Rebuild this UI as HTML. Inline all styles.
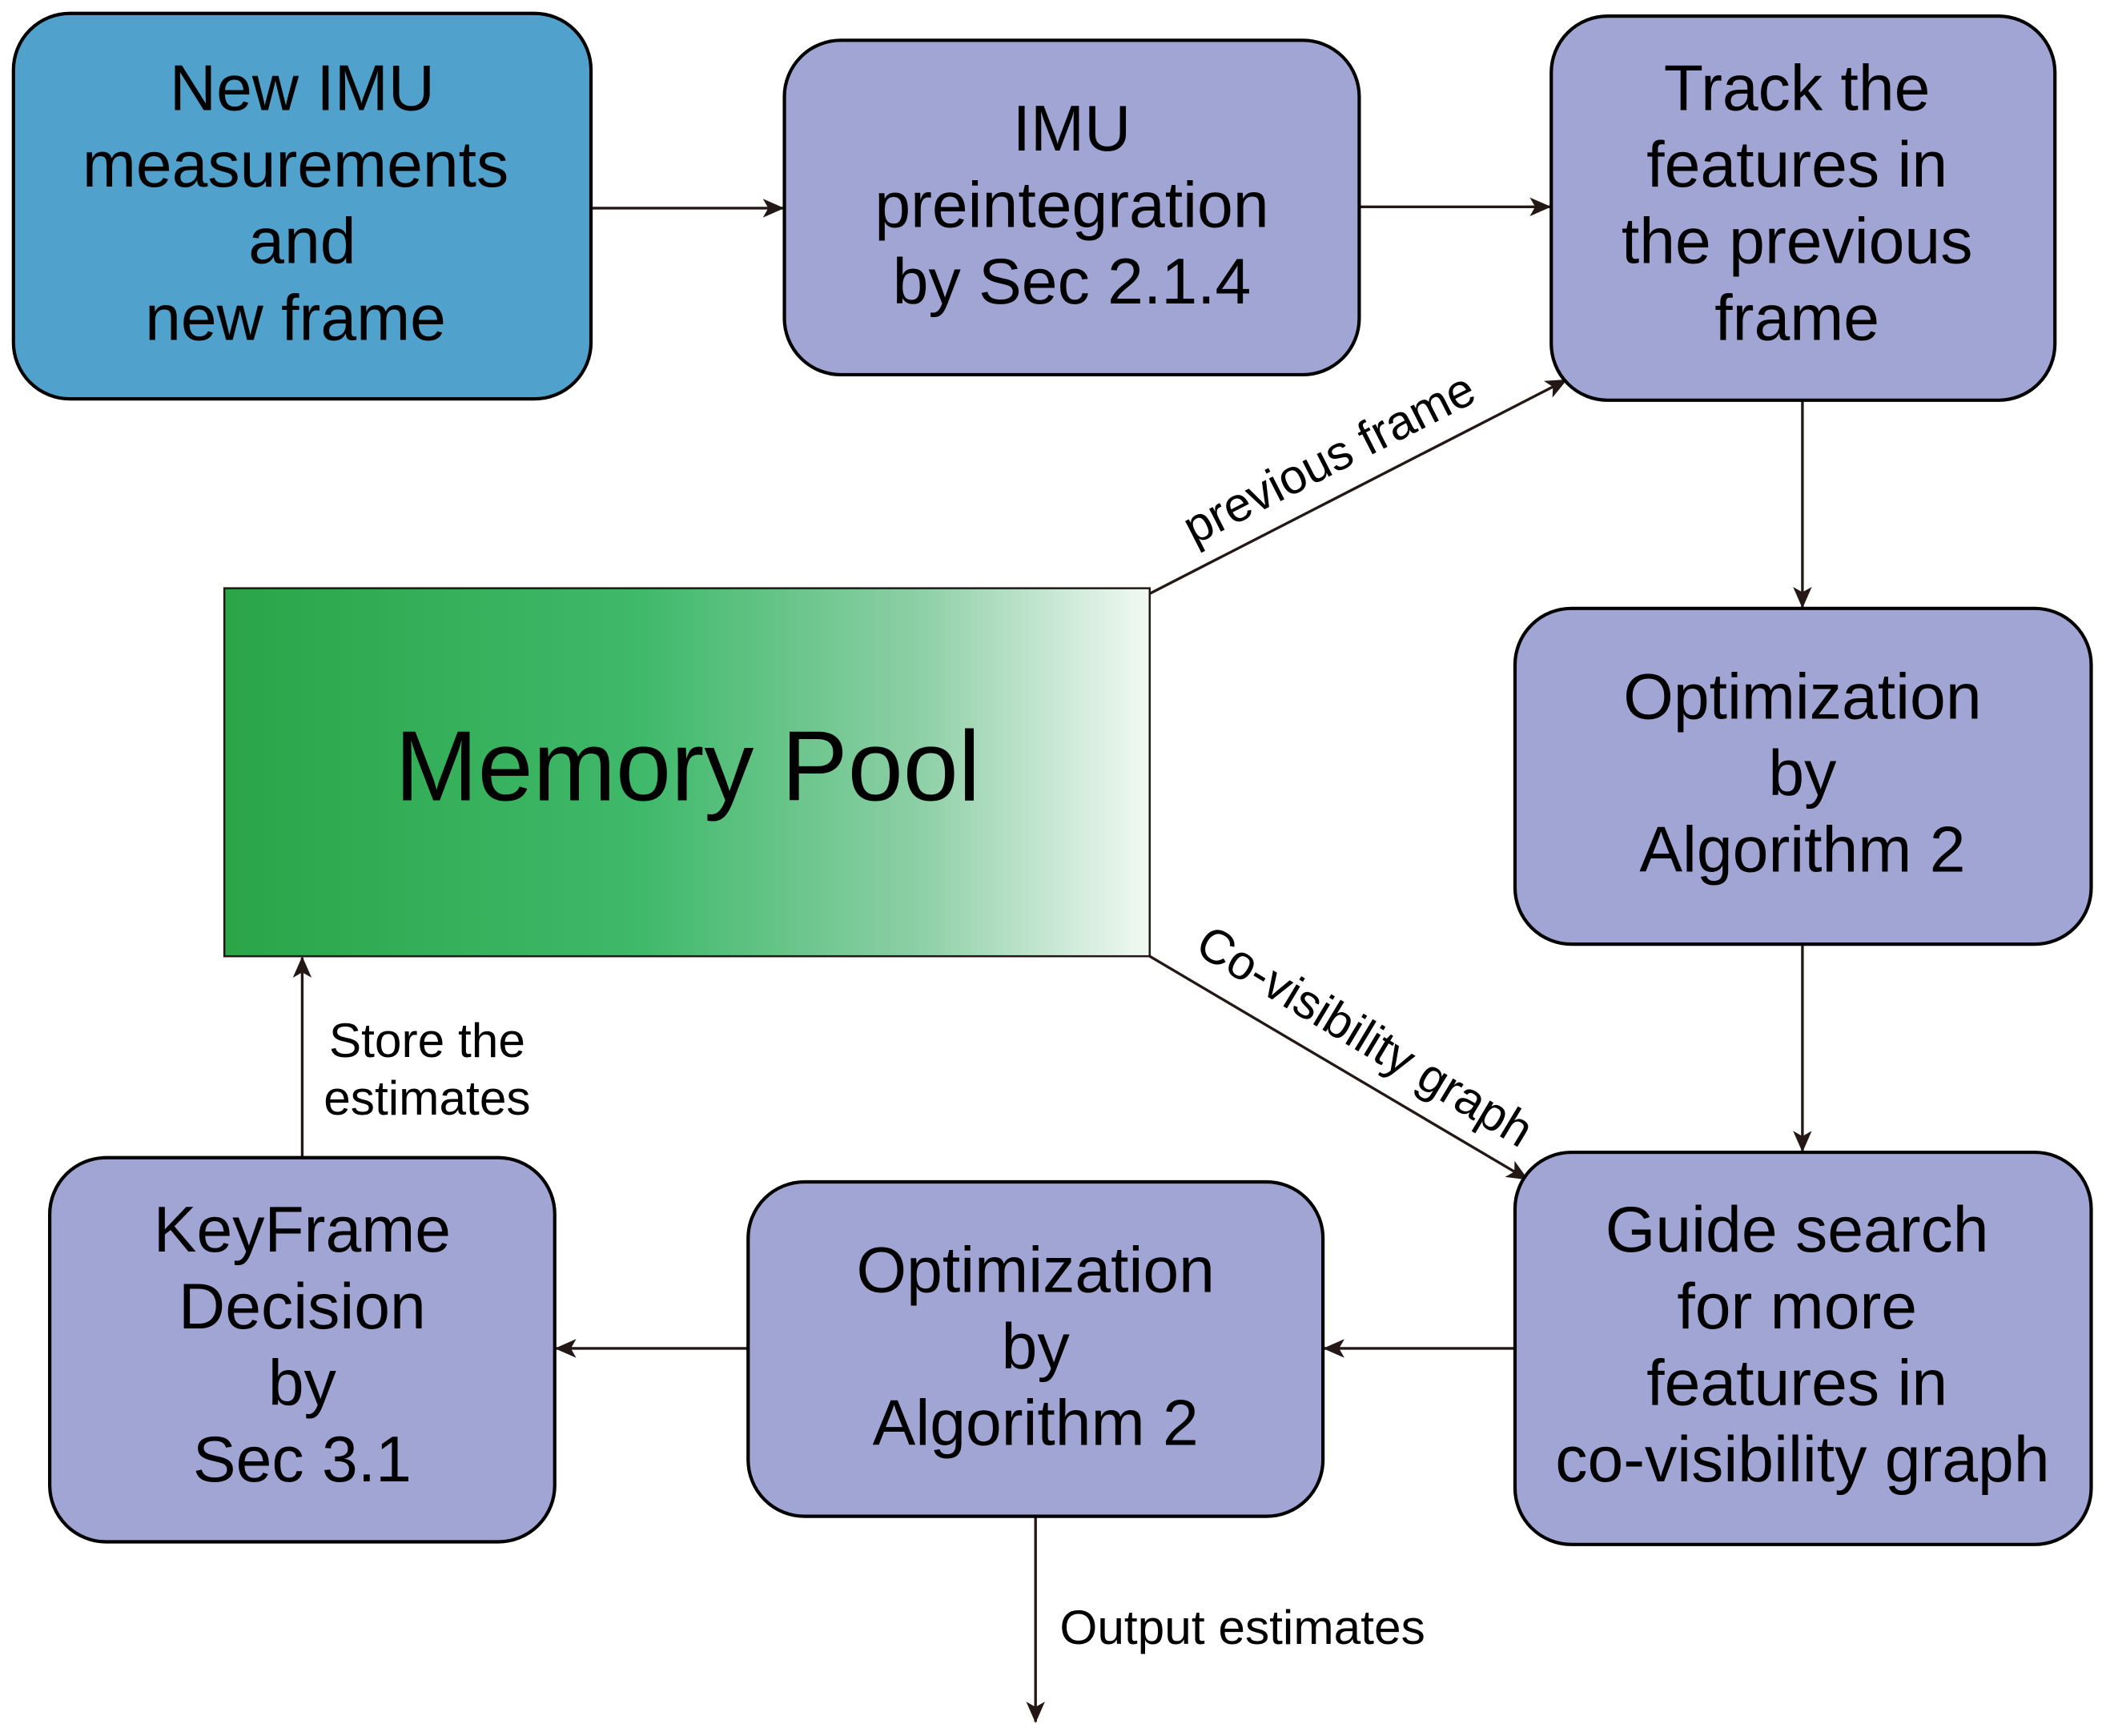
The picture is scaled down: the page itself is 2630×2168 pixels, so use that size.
<!DOCTYPE html>
<html><head><meta charset="utf-8"><style>
html,body{margin:0;padding:0;background:#fff;}
svg{display:block;}
text{font-family:"Liberation Sans",sans-serif;fill:#000;}
</style></head><body>
<svg width="2630" height="2168" viewBox="0 0 1568 1292.6" xmlns="http://www.w3.org/2000/svg">
<defs>
<linearGradient id="g" x1="0" x2="1" y1="0" y2="0">
<stop offset="0" stop-color="#2ba548"/>
<stop offset="0.45" stop-color="#3fb96a"/>
<stop offset="0.75" stop-color="#8dcfa6"/>
<stop offset="1" stop-color="#f2f9f4"/>
</linearGradient>
<marker id="a" markerWidth="16" markerHeight="14" refX="15" refY="7" orient="auto" markerUnits="userSpaceOnUse">
<path d="M0,0 L16,7 L0,14 L4,7 Z" fill="#231815"/>
</marker>
</defs>
<g stroke="#231815" stroke-width="2" fill="none" marker-end="url(#a)">
<line x1="440" y1="155" x2="583" y2="155"/>
<line x1="1012" y1="154" x2="1154" y2="154"/>
<line x1="1342" y1="298" x2="1342" y2="452"/>
<line x1="1342" y1="703" x2="1342" y2="857"/>
<line x1="1128" y1="1004" x2="986" y2="1004"/>
<line x1="557" y1="1004" x2="414" y2="1004"/>
<line x1="225" y1="862" x2="225" y2="713"/>
<line x1="771" y1="1129" x2="771" y2="1282"/>
<line x1="856" y1="442" x2="1166" y2="283"/>
<line x1="856" y1="712" x2="1137" y2="878"/>
</g>
<g stroke="#000" stroke-width="2.5">
<rect x="10" y="10" width="430" height="287" rx="42" fill="#50a2cc"/>
<rect x="584" y="30" width="428" height="249" rx="42" fill="#a1a5d3"/>
<rect x="1155" y="12" width="375" height="286" rx="42" fill="#a1a5d3"/>
<rect x="1128" y="453" width="429" height="250" rx="42" fill="#a1a5d3"/>
<rect x="1128" y="858" width="429" height="292" rx="42" fill="#a1a5d3"/>
<rect x="557" y="880" width="428" height="249" rx="42" fill="#a1a5d3"/>
<rect x="37" y="862" width="376" height="286" rx="42" fill="#a1a5d3"/>
</g>
<rect x="167" y="438" width="689" height="274" fill="url(#g)" stroke="#231815" stroke-width="1.5"/>
<g font-size="48" text-anchor="middle">
<text x="225" y="82">New IMU</text><text x="220" y="139">measurements</text><text x="225" y="196">and</text><text x="220" y="253">new frame</text>
<text x="798" y="112">IMU</text><text x="798" y="169">preintegration</text><text x="798" y="226">by Sec 2.1.4</text>
<text x="1338" y="82">Track the</text><text x="1338" y="139">features in</text><text x="1338" y="196">the previous</text><text x="1338" y="253">frame</text>
<text x="1342" y="535">Optimization</text><text x="1342" y="592">by</text><text x="1342" y="649">Algorithm 2</text>
<text x="1338" y="932">Guide search</text><text x="1338" y="989">for more</text><text x="1338" y="1046">features in</text><text x="1342" y="1103">co-visibility graph</text>
<text x="771" y="962">Optimization</text><text x="771" y="1019">by</text><text x="771" y="1076">Algorithm 2</text>
<text x="225" y="932">KeyFrame</text><text x="225" y="989">Decision</text><text x="225" y="1046">by</text><text x="225" y="1103">Sec 3.1</text>
</g>
<text x="512" y="596" font-size="74" text-anchor="middle">Memory Pool</text>
<g font-size="36">
<text x="318" y="787" text-anchor="middle">Store the</text>
<text x="318" y="830" text-anchor="middle">estimates</text>
<text x="789" y="1224">Output estimates</text>
<text transform="translate(995,352) rotate(-27)" text-anchor="middle">previous frame</text>
<text transform="translate(1010,782) rotate(31)" text-anchor="middle">Co-visibility graph</text>
</g>
</svg>
</body></html>
